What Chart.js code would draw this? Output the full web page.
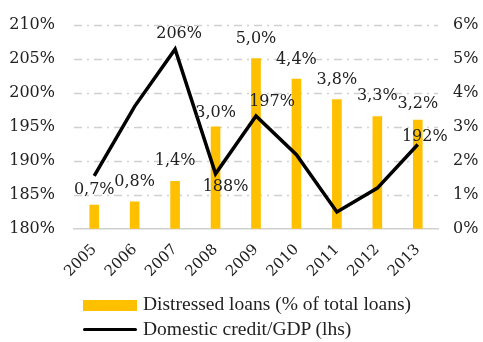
<!DOCTYPE html>
<html>
<head>
<meta charset="utf-8">
<script src="https://cdn.jsdelivr.net/npm/chart.js@4.4.1/dist/chart.umd.min.js"></script>
<style>
  html, body { margin: 0; padding: 0; background: #fff; }
  #wrap { position: relative; width: 483px; height: 342px; }
  .leg { position: absolute; left: 83px; font-family: "Liberation Serif", serif; font-size: 19.5px; color: #222; white-space: nowrap; }
  .leg span { position: absolute; left: 60px; top: -12px; }
  .box { position: absolute; left: 0; width: 54px; }
</style>
</head>
<body>
<div id="wrap">
  <canvas id="chart" width="483" height="342"></canvas>
  <div class="leg" style="top:305px"><div class="box" style="top:-5px;height:11px;background:#FFC000"></div><span>Distressed loans (% of total loans)</span></div>
  <div class="leg" style="top:330px"><div class="box" style="top:-2px;height:3px;background:#000;border-radius:2px"></div><span>Domestic credit/GDP (lhs)</span></div>
</div>
<script>
const years = ["2005", "2006", "2007", "2008", "2009", "2010", "2011", "2012", "2013"];
const distressedLoans = [0.7, 0.8, 1.4, 3.0, 5.0, 4.4, 3.8, 3.3, 3.2];
const creditToGdp = [187.8, 198, 206.4, 188.1, 196.6, 190.9, 182.5, 186, 192.4];
const leftTicks = [180, 185, 190, 195, 200, 205, 210];
const rightTicks = [0, 1, 2, 3, 4, 5, 6];
// only these line points carry a label in the original
const lineLabelIdx = [2, 3, 4, 8];

const numFont = "DejaVu Serif";
const textColor = "#222";

// offsets for the label text (pixels), picked by eye
const lineLabelOffset = { 2: [4, -15], 3: [10, 13], 4: [16, -14], 8: [7, -8] };
const barLabelOffset = [15, 20, 20, 14, 20, 19, 20, 21, 16];

// dash-dot gridlines behind the marks
const gridPlugin = {
  id: "dashgrid",
  beforeDatasetsDraw(chart) {
    const ctx = chart.ctx;
    const area = chart.chartArea;
    const y = chart.scales.y;
    ctx.save();
    ctx.strokeStyle = "#d0d0d0";
    ctx.lineWidth = 1.5;
    ctx.setLineDash([8, 5, 2, 5]);
    leftTicks.slice(1).forEach((v) => {
      const py = Math.round(y.getPixelForValue(v)) + 0.5;
      ctx.beginPath();
      ctx.moveTo(area.left, py);
      ctx.lineTo(area.right, py);
      ctx.stroke();
    });
    ctx.restore();
  },
};

const labelPlugin = {
  id: "labels",
  afterDatasetsDraw(chart) {
    const ctx = chart.ctx;
    ctx.save();
    ctx.font = "16px " + numFont;
    ctx.fillStyle = textColor;
    ctx.textAlign = "center";
    ctx.textBaseline = "middle";
    chart.getDatasetMeta(1).data.forEach((bar, i) => {
      const t = distressedLoans[i].toFixed(1).replace(".", ",") + "%";
      ctx.fillText(t, bar.x, bar.y - barLabelOffset[i]);
    });
    const pts = chart.getDatasetMeta(0).data;
    lineLabelIdx.forEach((i) => {
      const off = lineLabelOffset[i];
      ctx.fillText(Math.round(creditToGdp[i]) + "%", pts[i].x + off[0], pts[i].y + off[1]);
    });
    ctx.restore();
  },
};

new Chart("chart", {
  type: "bar",
  data: {
    labels: years,
    datasets: [
      {
        type: "line",
        label: "Domestic credit/GDP (lhs)",
        data: creditToGdp,
        yAxisID: "y",
        borderColor: "#000",
        borderWidth: 3.5,
        pointRadius: 0,
        tension: 0,
        order: 0,
      },
      {
        label: "Distressed loans (% of total loans)",
        data: distressedLoans,
        yAxisID: "y1",
        backgroundColor: "#FFC000",
        barThickness: 9,
        order: 1,
      },
    ],
  },
  options: {
    responsive: false,
    animation: false,
    devicePixelRatio: 1,
    layout: { padding: { top: 22, left: 0, right: 0, bottom: 0 } },
    plugins: { legend: { display: false }, tooltip: { enabled: false } },
    scales: {
      x: {
        grid: { display: false },
        border: { color: "#d0d0d0", width: 1.5 },
        ticks: {
          color: textColor,
          font: { family: numFont, size: 15 },
          minRotation: 45,
          maxRotation: 45,
          padding: 4,
        },
        afterFit: (s) => { s.height = 113; },
      },
      y: {
        position: "left",
        min: 180,
        max: 210,
        afterBuildTicks: (s) => { s.ticks = leftTicks.map((v) => ({ value: v })); },
        grid: { display: false },
        border: { display: false },
        ticks: {
          color: textColor,
          font: { family: numFont, size: 16 },
          padding: 11,
          callback: (v) => v + "%",
        },
        afterFit: (s) => { s.width = 74; },
      },
      y1: {
        position: "right",
        min: 0,
        max: 6,
        afterBuildTicks: (s) => { s.ticks = rightTicks.map((v) => ({ value: v })); },
        grid: { drawOnChartArea: false, drawTicks: false },
        border: { display: false },
        ticks: {
          color: textColor,
          font: { family: numFont, size: 16 },
          padding: 15,
          callback: (v) => v + "%",
        },
        afterFit: (s) => { s.width = 45; },
      },
    },
  },
  plugins: [gridPlugin, labelPlugin],
});
</script>
</body>
</html>
